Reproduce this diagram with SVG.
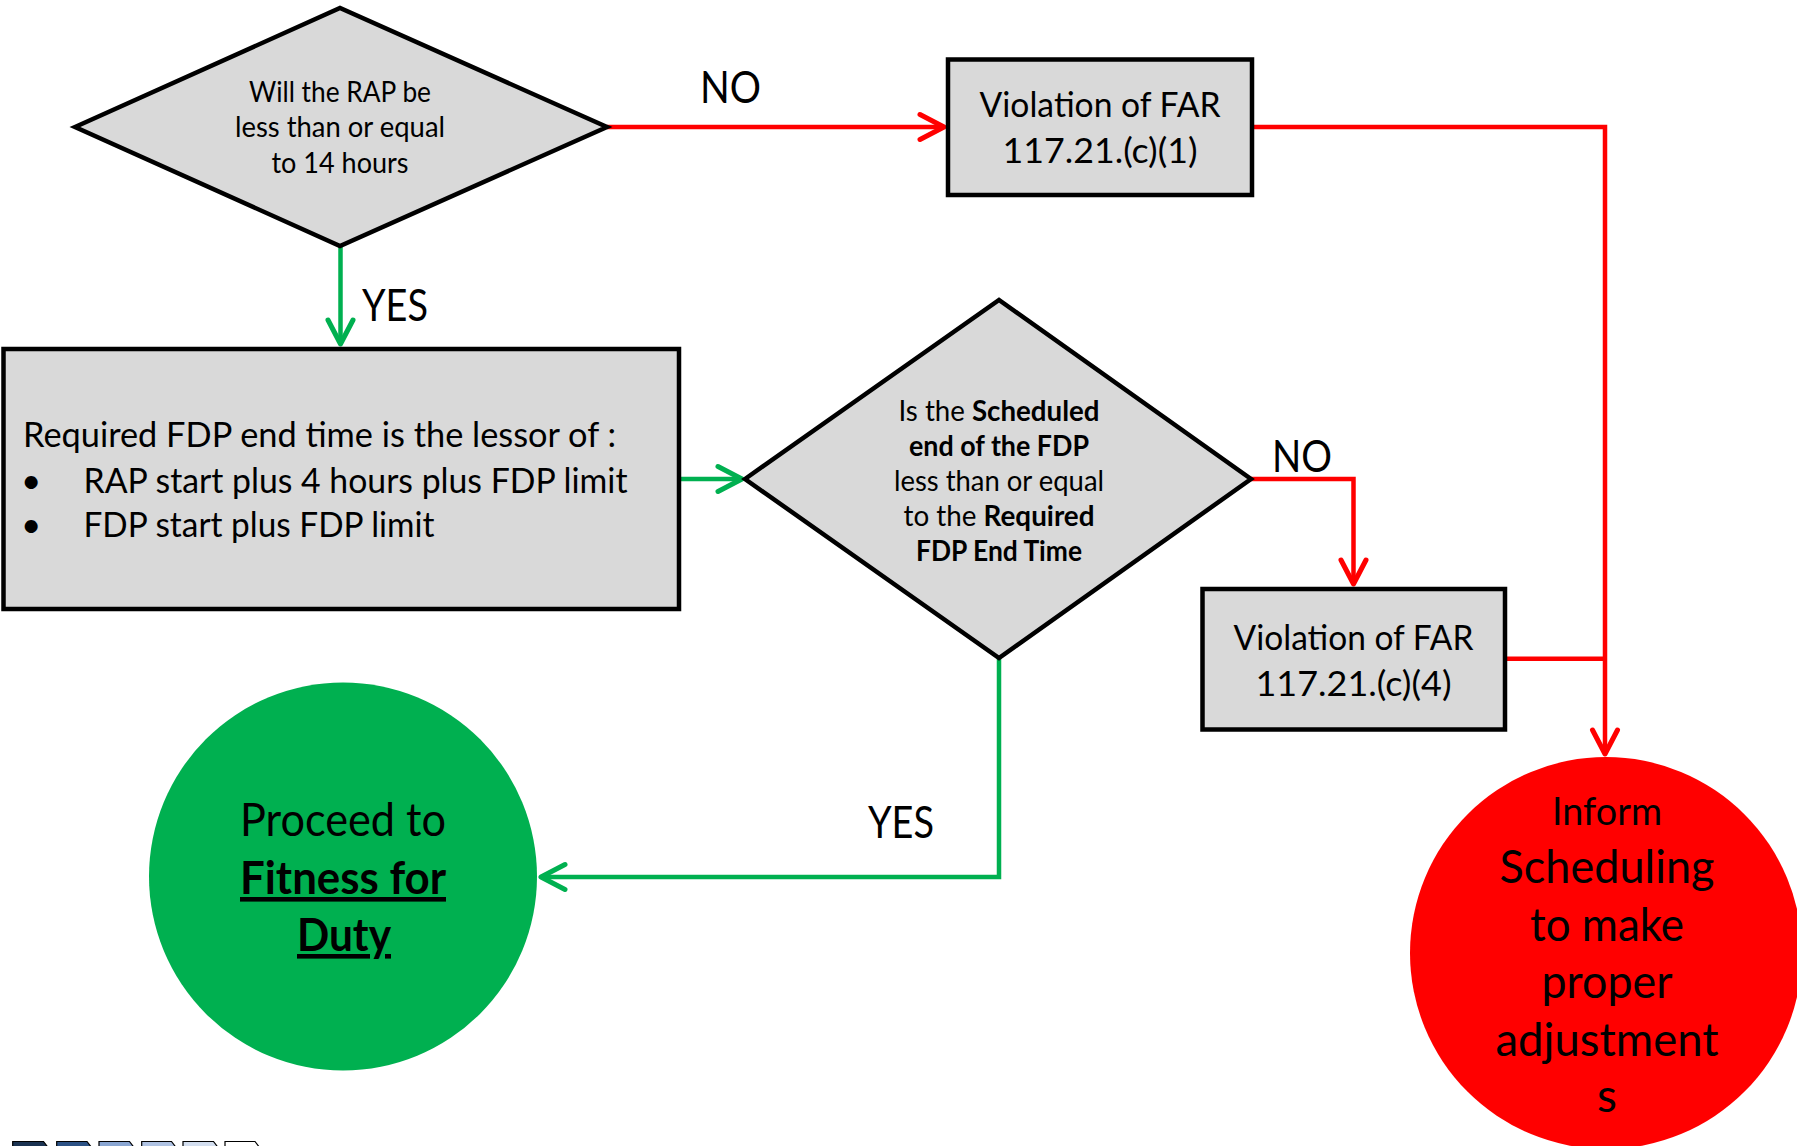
<svg xmlns="http://www.w3.org/2000/svg" width="1797" height="1146" viewBox="0 0 1797 1146">
<style>
.t{font-family:Lato,"Liberation Sans",sans-serif;fill:#000}
.shape{fill:#d9d9d9;stroke:#000;stroke-width:4.5;stroke-linejoin:miter}
.red{fill:none;stroke:#ff0000;stroke-width:4.5}
.grn{fill:none;stroke:#00b050;stroke-width:4.5}
.b{font-weight:bold}
.lbl{font-size:44px}
.d{font-size:28px}
.bx{font-size:35px}
.c{font-size:46px}
</style>
<defs>
<marker id="ar" viewBox="-30 -16 34 32" refX="0" refY="0" markerWidth="34" markerHeight="32" markerUnits="userSpaceOnUse" orient="auto">
<path d="M-24,-12.5 L0,0 L-24,12.5" fill="none" stroke="#ff0000" stroke-width="5" stroke-linecap="round" stroke-linejoin="round"/>
</marker>
<marker id="ag" viewBox="-30 -16 34 32" refX="0" refY="0" markerWidth="34" markerHeight="32" markerUnits="userSpaceOnUse" orient="auto">
<path d="M-24,-12.5 L0,0 L-24,12.5" fill="none" stroke="#00b050" stroke-width="5" stroke-linecap="round" stroke-linejoin="round"/>
</marker>
</defs>
<rect width="1797" height="1146" fill="#fff"/>

<g id="connectors">
<path class="red" d="M607,127 H944" marker-end="url(#ar)"/>
<path class="red" d="M1252,127 H1605 V754" marker-end="url(#ar)"/>
<path class="red" d="M1505,658.7 H1605"/>
<path class="red" d="M1251,479 H1353.5 V584" marker-end="url(#ar)"/>
<path class="grn" d="M340.5,245 V344" marker-end="url(#ag)"/>
<path class="grn" d="M679,479 H742" marker-end="url(#ag)"/>
<path class="grn" d="M999,658 V877 H541" marker-end="url(#ag)"/>
<text class="t lbl" x="700" y="103" textLength="61" lengthAdjust="spacingAndGlyphs">NO</text>
<text class="t lbl" x="362" y="321" textLength="66" lengthAdjust="spacingAndGlyphs">YES</text>
<text class="t lbl" x="1272" y="472" textLength="60" lengthAdjust="spacingAndGlyphs">NO</text>
<text class="t lbl" x="868" y="838" textLength="66" lengthAdjust="spacingAndGlyphs">YES</text>
</g>

<g id="decision1">
<polygon class="shape" points="75,127 340,8 607,127 340,246"/>
<text class="t d" text-anchor="middle"><tspan x="340" y="102" textLength="182" lengthAdjust="spacingAndGlyphs">Will the RAP be</tspan><tspan x="340" y="137" textLength="210" lengthAdjust="spacingAndGlyphs">less than or equal</tspan><tspan x="340" y="173" textLength="137" lengthAdjust="spacingAndGlyphs">to 14 hours</tspan></text>
</g>

<g id="violation1">
<rect class="shape" x="948" y="59.5" width="304" height="135.5"/>
<text class="t bx" text-anchor="middle"><tspan x="1100" y="117" textLength="241" lengthAdjust="spacingAndGlyphs">Violation of FAR</tspan><tspan x="1100" y="163" textLength="195" lengthAdjust="spacingAndGlyphs">117.21.(c)(1)</tspan></text>
</g>

<g id="required">
<rect class="shape" x="3.5" y="349" width="675.5" height="260"/>
<text class="t bx" x="23" y="447" textLength="593" lengthAdjust="spacingAndGlyphs">Required FDP end time is the lessor of :</text>
<text class="t bx" x="21" y="493">•</text>
<text class="t bx" x="83.5" y="493" textLength="544" lengthAdjust="spacingAndGlyphs">RAP start plus 4 hours plus FDP limit</text>
<text class="t bx" x="21" y="537">•</text>
<text class="t bx" x="83.5" y="537" textLength="351" lengthAdjust="spacingAndGlyphs">FDP start plus FDP limit</text>
</g>

<g id="decision2">
<polygon class="shape" points="745,479 999,300 1251,479 999,658"/>
<text class="t d" text-anchor="middle"><tspan x="999" y="421" textLength="201" lengthAdjust="spacingAndGlyphs">Is the <tspan class="b">Scheduled</tspan></tspan><tspan class="b" x="999" y="456" textLength="180" lengthAdjust="spacingAndGlyphs">end of the FDP</tspan><tspan x="999" y="491" textLength="210" lengthAdjust="spacingAndGlyphs">less than or equal</tspan><tspan x="999" y="526" textLength="191" lengthAdjust="spacingAndGlyphs">to the <tspan class="b">Required</tspan></tspan><tspan class="b" x="999" y="561" textLength="166" lengthAdjust="spacingAndGlyphs">FDP End Time</tspan></text>
</g>

<g id="violation4">
<rect class="shape" x="1202.5" y="589" width="302.5" height="140.5"/>
<text class="t bx" text-anchor="middle"><tspan x="1353.5" y="650" textLength="240" lengthAdjust="spacingAndGlyphs">Violation of FAR</tspan><tspan x="1353.5" y="696" textLength="196" lengthAdjust="spacingAndGlyphs">117.21.(c)(4)</tspan></text>
</g>

<g id="fitness">
<circle cx="343" cy="876.5" r="194" fill="#00b050"/>
<text class="t c" text-anchor="middle"><tspan x="343" y="836" textLength="206" lengthAdjust="spacingAndGlyphs">Proceed to</tspan><tspan class="b" x="343" y="894" text-decoration="underline" textLength="206" lengthAdjust="spacingAndGlyphs">Fitness for</tspan><tspan class="b" x="344" y="951" text-decoration="underline" textLength="94" lengthAdjust="spacingAndGlyphs">Duty</tspan></text>
</g>

<g id="inform">
<circle cx="1606" cy="953" r="196" fill="#ff0000"/>
<text class="t c" text-anchor="middle"><tspan x="1607" y="825" font-size="39" textLength="110" lengthAdjust="spacingAndGlyphs">Inform</tspan><tspan x="1607" y="883" textLength="215" lengthAdjust="spacingAndGlyphs">Scheduling</tspan><tspan x="1607" y="941" textLength="154" lengthAdjust="spacingAndGlyphs">to make</tspan><tspan x="1607" y="998" textLength="131" lengthAdjust="spacingAndGlyphs">proper</tspan><tspan x="1607" y="1056" textLength="223" lengthAdjust="spacingAndGlyphs">adjustment</tspan><tspan x="1607" y="1112">s</tspan></text>
</g>

<g id="footer" stroke="#000" stroke-width="1.2">
<polygon points="12.7,1141.5 43.5,1141.5 50,1150 12.7,1150" fill="#1b3352"/>
<polygon points="56.7,1141.5 87,1141.5 93.5,1150 56.7,1150" fill="#2c5285"/>
<polygon points="99,1141.5 129.5,1141.5 136,1150 99,1150" fill="#8aa6d2"/>
<polygon points="141.7,1141.5 171.5,1141.5 178,1150 141.7,1150" fill="#b0c3e3"/>
<polygon points="183,1141.5 213.5,1141.5 220,1150 183,1150" fill="#d3deef"/>
<polygon points="225,1141.5 255,1141.5 261.5,1150 225,1150" fill="#ffffff"/>
</g>
</svg>
